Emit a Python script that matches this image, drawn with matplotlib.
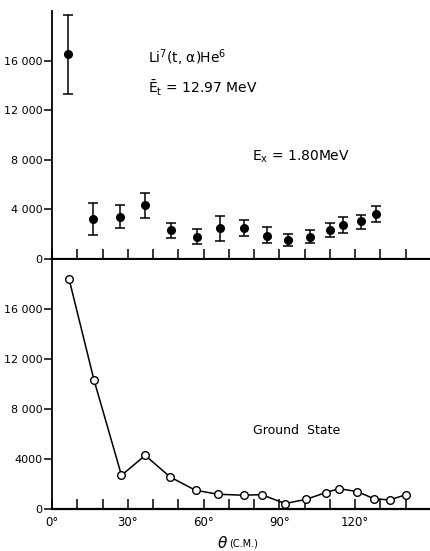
"""
Li7(t,alpha)He6 angular distributions, Et = 12.97 MeV
"""
import matplotlib
matplotlib.use('Agg')
import matplotlib.pyplot as plt
import numpy as np

# Ex = 1.80 MeV state (top panel)
theta_ex = [6.4, 16.4, 27.1, 37.0, 47.3, 57.3, 66.5, 76.0, 85.0, 93.3, 102.2, 110.2, 115.0, 122.2, 128.3]
sigma_ex = [16500, 3200, 3350, 4350, 2350, 1800, 2520, 2520, 1880, 1560, 1770, 2340, 2740, 3030, 3620]
err_lo = [3200, 1300, 850, 1070, 680, 590, 1100, 640, 620, 490, 510, 600, 670, 610, 670]
err_hi = [3200, 1300, 1030, 970, 560, 620, 970, 650, 670, 450, 570, 560, 620, 510, 620]

# ground state (bottom panel)
theta_gs = [6.8, 16.6, 27.5, 36.9, 46.8, 56.8, 65.8, 75.8, 83.0, 92.3, 100.7, 108.3, 113.6, 120.9, 127.3, 133.6, 140.1]
sigma_gs = [18400, 10350, 2670, 4270, 2530, 1470, 1150, 1070, 1120, 400, 750, 1280, 1600, 1360, 800, 690, 1120]

xticks = list(range(0, 150, 10))
xlabels = ['0°', '', '', '30°', '', '', '60°', '', '', '90°', '', '', '120°', '', '']
yticks = [0, 4000, 8000, 12000, 16000]
ylabels_top = ['0', '4 000', '8 000', '12 000', '16 000']
ylabels_bot = ['0', '4000', '8 000', '12 000', '16 000']

plt.rcParams['font.family'] = ['DejaVu Sans']
plt.rcParams['mathtext.fontset'] = 'dejavusans'

fig = plt.figure(figsize=(4.31, 5.51), dpi=100)
ax1 = fig.add_axes([0.1206, 0.530, 0.8794, 0.450])
ax2 = fig.add_axes([0.1206, 0.077, 0.8794, 0.452])

for ax, yl in ((ax1, ylabels_top), (ax2, ylabels_bot)):
    ax.set_xlim(0, 150)
    ax.set_ylim(0, 20000)
    ax.spines['top'].set_visible(False)
    ax.spines['right'].set_visible(False)
    ax.spines['left'].set_linewidth(1.3)
    ax.spines['bottom'].set_linewidth(1.6)
    ax.set_xticks(xticks)
    ax.set_yticks(yticks)
    ax.set_yticklabels(yl, fontsize=8)
    ax.tick_params(axis='x', direction='in', length=7, width=1.1, pad=5, labelsize=8.5)
    ax.tick_params(axis='y', direction='out', length=6, width=1.1, pad=1)

ax1.set_xticklabels([])
ax2.set_xticklabels(xlabels)

ax1.errorbar(theta_ex, sigma_ex, yerr=[err_lo, err_hi], fmt='o', color='black',
             markersize=5.5, capsize=3.5, elinewidth=1.1, capthick=1.1)
ax2.plot(theta_gs, sigma_gs, '-o', color='black', lw=1.1, markersize=5.5,
         markerfacecolor='white', markeredgewidth=1.0)

fig.text(148 / 431, 1 - 58 / 551, r'Li$^{7}$(t, α)He$^{6}$', fontsize=10, va='center')
fig.text(148 / 431, 1 - 88 / 551, r'$\bar{\mathrm{E}}_{\mathrm{t}}$ = 12.97 MeV', fontsize=10, va='center')
fig.text(252 / 431, 1 - 157 / 551, r'E$_{\mathrm{x}}$ = 1.80MeV', fontsize=10, va='center')
fig.text(253 / 431, 1 - 430 / 551, 'Ground  State', fontsize=9, va='center')
fig.text(217 / 431, 1 - 543 / 551, r'$\theta$', fontsize=11, va='center', style='italic')
fig.text(229 / 431, 1 - 543 / 551, '(C.M.)', fontsize=7, va='center')

fig.savefig('out.png', dpi=100)
